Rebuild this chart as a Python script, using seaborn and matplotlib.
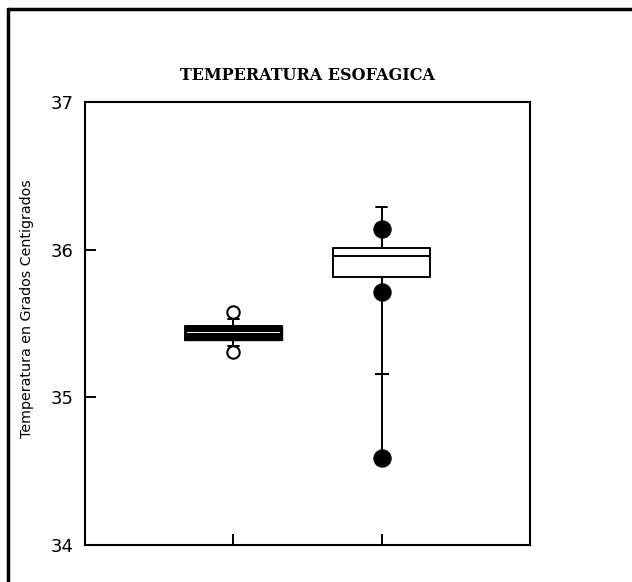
import numpy as np
import pandas as pd
import matplotlib
matplotlib.use("Agg")
import matplotlib.pyplot as plt
from matplotlib.lines import Line2D
import seaborn as sns

# ---- data ----
groups = ["A", "B"]
whisker_low = [35.35, 34.59]
q1 = [35.385, 35.815]
median = [35.445, 35.955]
q3 = [35.48, 36.01]
whisker_high = [35.53, 36.29]
extra_tick_vals = [35.16]          # small mark on group B whisker
extra_tick_group = ["B"]
open_pts_vals = [35.58, 35.31]     # group A
open_pts_group = ["A", "A"]
filled_pts_vals = [36.14, 35.71, 34.59]  # group B
filled_pts_group = ["B", "B", "B"]
title = "TEMPERATURA ESOFAGICA"
ylabel = "Temperatura en Grados Centigrados"
yticks = [34, 35, 36, 37]

sns.set_theme(style="white")
plt.rcParams["font.family"] = ["DejaVu Sans"]
plt.rcParams["text.color"] = "black"

fig = plt.figure(figsize=(6.32, 5.82), dpi=100)
ax = fig.add_axes([0.1345, 0.0636, 0.7041, 0.7612])

rows = []
for g, lo, a, m, b, hi in zip(groups, whisker_low, q1, median, q3, whisker_high):
    for v in (lo, a, m, b, hi):
        rows.append({"grp": g, "val": v})
df = pd.DataFrame(rows)

sns.boxplot(data=df, x="grp", y="val", order=groups, whis=np.inf, width=0.65,
            showfliers=False, color="black", linecolor="black", linewidth=1.4,
            fill=False, capwidths=0.07, ax=ax)

pts = pd.DataFrame({"grp": open_pts_group, "val": open_pts_vals})
sns.scatterplot(data=pts, x="grp", y="val", marker="o", s=80, facecolor="white",
                edgecolor="black", linewidth=1.5, ax=ax, zorder=5)
fp = pd.DataFrame({"grp": filled_pts_group, "val": filled_pts_vals})
sns.scatterplot(data=fp, x="grp", y="val", marker="o", s=150, color="black",
                edgecolor="black", ax=ax, zorder=5)
et = pd.DataFrame({"grp": extra_tick_group, "val": extra_tick_vals})
sns.scatterplot(data=et, x="grp", y="val", marker="_", s=100, color="black",
                linewidth=1.5, ax=ax, zorder=5)

# dark fill for group A box
ax.fill_between([-0.325, 0.325], q1[0], q3[0], color="black", zorder=4)
ax.plot([-0.31, 0.31], [median[0], median[0]], color="white", lw=0.7, zorder=4.5)

ax.set_xlim(-1, 2)
ax.set_ylim(34, 37)
ax.set_yticks(yticks)
ax.set_yticklabels([str(t) for t in yticks], fontsize=13, color="black")
ax.set_xticks([0, 1])
ax.set_xticklabels(["", ""])
ax.set_xlabel("")
ax.set_ylabel("")
ax.tick_params(axis="both", direction="in", length=8, width=1.4, color="black",
               labelcolor="black", left=True, bottom=True, pad=8)
for s in ax.spines.values():
    s.set_color("black")
    s.set_linewidth(1.5)

fig.text(0.486, 0.871, title, ha="center", va="center", fontsize=11.5,
         fontweight="bold", family="DejaVu Serif", color="black")
fig.text(0.042, 0.47, ylabel, rotation=90, ha="center", va="center",
         fontsize=10.3, color="black")

# outer frame (left and top)
fig.add_artist(Line2D([0.012, 0.012], [0.0, 0.985], transform=fig.transFigure,
                      color="black", lw=2.5))
fig.add_artist(Line2D([0.012, 1.0], [0.985, 0.985], transform=fig.transFigure,
                      color="black", lw=2.5))

fig.savefig("out.png", dpi=100, facecolor="white")
